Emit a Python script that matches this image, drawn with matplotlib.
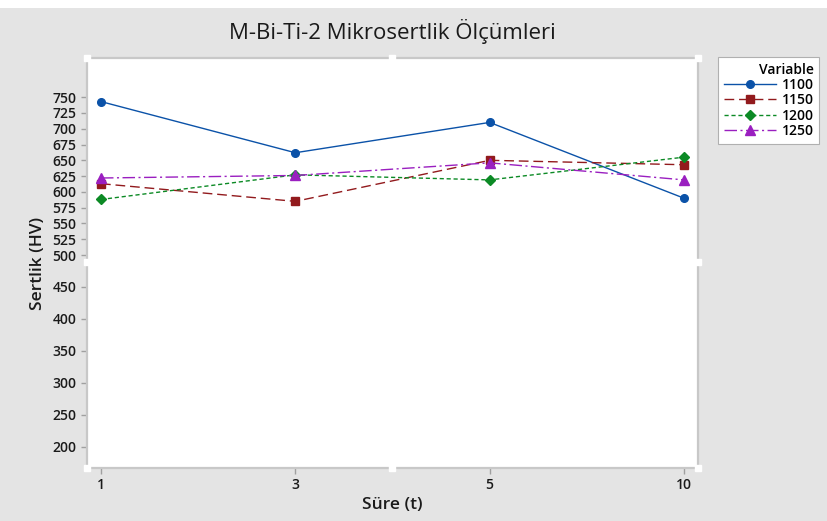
import matplotlib
matplotlib.use("Agg")
import matplotlib.pyplot as plt
from matplotlib.lines import Line2D
from matplotlib.patches import Rectangle

plt.rcParams['font.family'] = ['Open Sans', 'DejaVu Sans']

times = ["1", "3", "5", "10"]
series_names = ["1100", "1150", "1200", "1250"]
v1100 = [743, 662, 710, 590]
v1150 = [613, 585, 650, 643]
v1200 = [588, 627, 619, 655]
v1250 = [622, 626, 646, 619]
values = [v1100, v1150, v1200, v1250]
upper_ticks = [500, 525, 550, 575, 600, 625, 650, 675, 700, 725, 750]
lower_ticks = [200, 250, 300, 350, 400, 450]

colors = ["#0b52a8", "#921a1d", "#0c8a25", "#9a1fc0"]
markers = ["o", "s", "D", "^"]
styles = ["-", (0, (7, 3.5)), (0, (3, 2)), (0, (9, 2.5, 1.5, 2.5))]
msizes = [5.5, 6, 5.5, 6.5]

W, H = 828, 521
fig = plt.figure(figsize=(W / 100, H / 100), dpi=100)
bg = "#e4e4e4"
fig.patch.set_facecolor(bg)
fig.add_artist(Rectangle((0, 1 - 8 / H), 1, 8 / H, transform=fig.transFigure,
                         facecolor="white", edgecolor="none"))

L, R = 87 / W, 698 / W
top, brk, bot = 1 - 58 / H, 1 - 262 / H, 1 - 468 / H
ax_u = fig.add_axes([L, brk, R - L, top - brk])
ax_l = fig.add_axes([L, bot, R - L, brk - bot])

spine_c = "#c8c8c8"
x = list(range(len(times)))
for ax in (ax_u, ax_l):
    ax.set_facecolor("white")
    ax.set_xlim(-0.072, 3.072)
    for s in ax.spines.values():
        s.set_color(spine_c)
        s.set_linewidth(1.6)
    ax.tick_params(axis="both", colors="#a0a0a0", length=4, width=1,
                   labelcolor="#1a1a1a", labelsize=10)

ax_u.spines["bottom"].set_visible(False)
ax_l.spines["top"].set_visible(False)
ax_u.set_ylim(489, 812)
ax_l.set_ylim(166.7, 489)
ax_u.set_yticks(upper_ticks)
ax_l.set_yticks(lower_ticks)
ax_u.set_xticks([])
ax_l.set_xticks(x)
ax_l.set_xticklabels(times)
for ax in (ax_u, ax_l):
    for lab in ax.get_yticklabels() + ax.get_xticklabels():
        lab.set_fontweight("semibold")
ax_l.tick_params(axis="x", pad=3)

handles = []
for name, vals, c, m, ls, ms in zip(series_names, values, colors, markers, styles, msizes):
    h, = ax_u.plot(x, vals, color=c, linestyle=ls, linewidth=1.0, marker=m,
                   markersize=ms, markerfacecolor=c, markeredgecolor=c, label=name,
                   clip_on=False, zorder=3)
    handles.append(h)

# Minitab-style handles
hx = [87, 392.5, 698, 87, 392.5, 698, 87, 698]
hy = [58, 58, 58, 468, 468, 468, 262, 262]
fig.add_artist(Line2D([a / W for a in hx], [1 - b / H for b in hy], transform=fig.transFigure,
                      linestyle="none", marker="s", markersize=5,
                      markerfacecolor="white", markeredgecolor="white", zorder=10))

fig.text((L + R) / 2, 1 - 31 / H, "M-Bi-Ti-2 Mikrosertlik Ölçümleri", ha="center", va="center",
         fontsize=16, fontweight="medium", color="#1a1a1a")
fig.text(38 / W, 1 - 263 / H, "Sertlik (HV)", rotation=90, ha="center", va="center",
         fontsize=12.5, fontweight="semibold", color="#1a1a1a")
fig.text((L + R) / 2, 1 - 505 / H, "Süre (t)", ha="center", va="center",
         fontsize=12.5, fontweight="semibold", color="#1a1a1a")

leg = fig.legend(handles=handles, loc="upper left", bbox_to_anchor=(718 / W, 1 - 57 / H),
                 borderaxespad=0, title="Variable", fontsize=10, title_fontsize=10,
                 frameon=True, fancybox=False, handlelength=3.8, handletextpad=0.4,
                 labelspacing=0.1, borderpad=0.4, alignment="right", framealpha=1)
leg.get_frame().set_edgecolor("#b0b0b0")
leg.get_frame().set_facecolor("white")
leg.get_frame().set_linewidth(0.8)
leg.get_title().set_fontweight("semibold")
for t in leg.get_texts():
    t.set_fontweight("semibold")

fig.savefig("out.png", dpi=100, facecolor=fig.get_facecolor())
